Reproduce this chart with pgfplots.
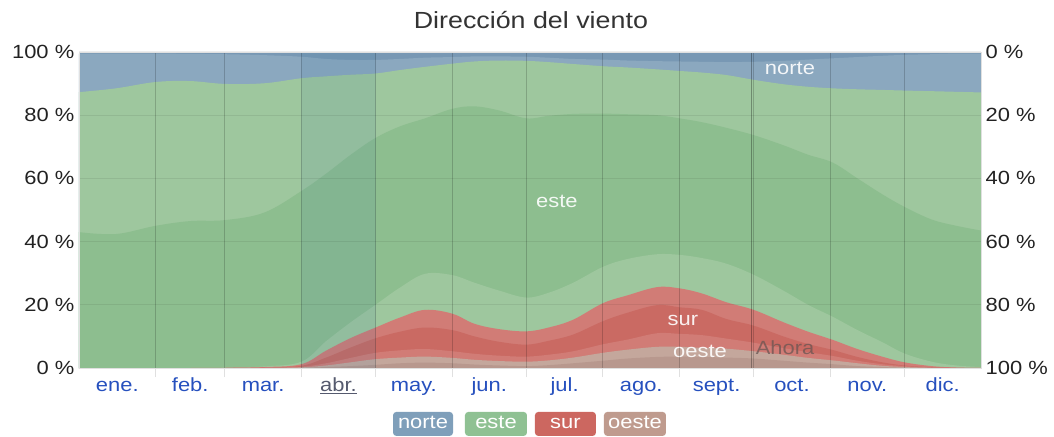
\documentclass[border=0pt]{standalone}
\usepackage{fontspec}
\setmainfont{Liberation Sans}
\usepackage{graphicx}
\usepackage{pgfplots}
\usepackage{pgfplotstable}
\pgfplotsset{compat=1.18}

\definecolor{Ndark}{RGB}{120,152,180}
\definecolor{Nlight}{RGB}{139,168,191}
\definecolor{Elight}{RGB}{158,199,158}
\definecolor{Edark}{RGB}{141,190,143}
\definecolor{Slight}{RGB}{209,124,118}
\definecolor{Sdark}{RGB}{202,106,99}
\definecolor{Wlight}{RGB}{196,167,156}
\definecolor{Wdark}{RGB}{184,152,142}
\definecolor{LegN}{RGB}{127,159,186}
\definecolor{LegE}{RGB}{143,193,147}
\definecolor{LegS}{RGB}{204,103,96}
\definecolor{LegW}{RGB}{191,155,142}
\definecolor{monthblue}{RGB}{38,80,190}
\definecolor{aprgray}{RGB}{85,90,110}
\definecolor{txt}{RGB}{34,34,34}
\definecolor{titlegray}{RGB}{51,51,51}
\definecolor{aprtint}{RGB}{60,120,160}

\newcommand{\sx}[1]{\scalebox{1.15}[1]{#1}}
\newcommand{\fs}{\fontsize{14.3}{17}\selectfont}
\tikzset{legbox/.style={rounded corners=2.5pt, minimum height=18pt, inner sep=0pt, text=white, font=\fs, text height=10.3pt, text depth=3pt}}

\pgfplotstableread{
day a b c d e f g h i
0 0 0 0 0 0 0 43.0 87.3 99.5
15 0 0 0 0 0 0 42.4 88.5 99.5
31 0 0 0 0 0 0 45.0 90.5 99.5
45 0 0 0 0 0 0 46.5 90.8 99.4
59 0 0 0 0 0.05 0.1 46.8 89.9 99.3
75 0 0 0.05 0.1 0.3 0.5 49.2 90.1 99.0
90 0.05 0.2 0.4 0.7 1.2 2.0 56.0 91.7 98.5
100 0.3 0.8 1.5 3.3 5.5 8.5 61.5 92.3 97.8
110 0.6 1.8 3.2 6.5 9.5 14.5 67.5 92.8 97.5
120 1.0 2.8 4.8 9.4 12.8 20.0 72.8 93.2 97.5
130 1.5 3.3 5.6 11.5 16.0 25.5 76.5 94.3 97.8
140 1.7 3.6 6.0 12.8 18.4 29.8 79.0 95.3 98.2
151 1.5 3.2 5.3 12.0 17.2 29.4 82.0 96.3 98.4
160 1.1 2.6 4.5 10.0 14.0 27.0 82.8 97.0 98.6
170 0.8 2.2 3.9 8.3 12.3 24.5 81.5 97.3 98.6
181 0.6 2.0 3.6 7.4 11.6 22.3 79.0 97.2 98.5
190 0.9 2.4 4.2 8.6 12.8 23.8 79.8 96.8 98.2
200 1.5 3.3 5.3 10.6 15.3 27.0 80.4 96.2 97.8
212 2.3 4.8 7.5 14.8 20.5 32.0 80.5 95.5 97.6
222 3.0 5.8 9.0 17.5 23.0 34.5 80.3 95.1 97.3
234 3.5 6.7 11.0 19.9 25.6 36.0 80.0 94.5 97.1
243 3.6 6.7 10.8 19.2 25.2 35.8 79.0 94.0 97.0
252 3.5 6.4 10.4 18.4 23.6 34.8 77.8 93.5 96.9
262 3.3 6.1 9.3 15.5 20.8 33.0 76.0 92.7 96.8
273 3.0 5.3 8.0 13.4 18.4 29.5 73.7 91.2 96.9
285 2.3 4.2 6.3 10.0 14.5 24.5 70.5 89.8 97.2
295 1.7 3.2 5.0 7.6 11.5 20.0 67.5 89.0 97.6
305 1.2 2.4 3.8 5.7 8.9 16.2 65.0 88.5 98.0
315 0.6 1.5 2.3 3.5 6.0 12.0 60.0 88.2 98.4
325 0.3 0.7 1.2 1.8 3.6 8.2 55.0 88.0 98.8
334 0.1 0.3 0.6 0.8 1.8 4.6 51.0 87.8 99.1
345 0 0.05 0.15 0.25 0.6 2.0 47.0 87.6 99.3
355 0 0 0 0.05 0.15 0.8 45.0 87.4 99.5
365 0 0 0 0 0 0.3 43.5 87.2 99.5
}\wind

\begin{document}
\begin{tikzpicture}
\begin{axis}[
  name=main,
  scale only axis, width=676.5pt, height=237pt,
  xmin=0, xmax=365, ymin=0, ymax=100,
  axis background/.style={fill=Ndark},
  axis on top,
  clip mode=individual,
  axis line style={draw=black!12},
  xtick={15.5,45,74.5,105,135.5,166,196.5,227.5,258,288.5,319,349.5},
  xticklabels={\sx{ene.},\sx{feb.},\sx{mar.},{\color{aprgray}\sx{\underline{abr.}}},\sx{may.},\sx{jun.},\sx{jul.},\sx{ago.},\sx{sept.},\sx{oct.},\sx{nov.},\sx{dic.}},
  xticklabel style={font=\fs, text=monthblue, anchor=base, yshift=-17.5pt},
  minor xtick={31,59,90,120,151,181,212,243,273,304,334},
  xminorgrids=true,
  minor x grid style={black, opacity=0.18, line width=0.75pt},
  xtick pos=bottom,
  tick align=outside,
  major tick length=0pt,
  minor tick length=7pt,
  minor tick style={black, opacity=0.12, line width=0.75pt},
  ytick={0,20,40,60,80,100},
  ytick pos=left,
  ytick style={draw=none},
  ymajorgrids=true,
  y grid style={black, opacity=0.07, line width=0.75pt},
  /pgf/number format/assume math mode=true,
  yticklabel={\sx{\pgfmathprintnumber{\tick}\ \%}},
  yticklabel style={font=\fs, text=txt},
]
\addplot[fill=Nlight, draw=none, smooth, tension=0.6] table[x=day, y=i] {\wind} \closedcycle;
\addplot[fill=Elight, draw=none, smooth, tension=0.6] table[x=day, y=h] {\wind} \closedcycle;
\addplot[fill=Edark, draw=none, smooth, tension=0.6] table[x=day, y=g] {\wind} \closedcycle;
\addplot[fill=Elight, draw=none, smooth, tension=0.6] table[x=day, y=f] {\wind} \closedcycle;
\addplot[fill=Slight, draw=none, smooth, tension=0.6] table[x=day, y=e] {\wind} \closedcycle;
\addplot[fill=Sdark, draw=none, smooth, tension=0.6] table[x=day, y=d] {\wind} \closedcycle;
\addplot[fill=Slight, draw=none, smooth, tension=0.6] table[x=day, y=c] {\wind} \closedcycle;
\addplot[fill=Wlight, draw=none, smooth, tension=0.6] table[x=day, y=b] {\wind} \closedcycle;
\addplot[fill=Wdark, draw=none, smooth, tension=0.6] table[x=day, y=a] {\wind} \closedcycle;

% April highlight and "now" line
\fill[aprtint, opacity=0.12] (axis cs:90,0) rectangle (axis cs:120,100);
\draw[black, opacity=0.3, line width=0.75pt] (axis cs:272,0) -- (axis cs:272,100);

% in-chart labels
\node[font=\fs, text=white, opacity=0.9] at (axis cs:287.7,94.9) {\sx{norte}};
\node[font=\fs, text=white, opacity=0.9] at (axis cs:193.4,52.8) {\sx{este}};
\node[font=\fs, text=white, opacity=0.9] at (axis cs:244.4,15.2) {\sx{sur}};
\node[font=\fs, text=white, opacity=0.9] at (axis cs:251.3,5.1) {\sx{oeste}};
\node[font=\fs, text={rgb,255:red,105;green,85;blue,82}, opacity=0.75] at (axis cs:285.7,6.3) {\sx{Ahora}};

% title
\node[font=\fontsize{17.5}{20}\selectfont, text=titlegray] at ([yshift=24pt]rel axis cs:0.501,1) {\sx{Dirección del viento}};

% legend
\node[legbox, fill=LegN, minimum width=45pt] at (rel axis cs:0.3814,-0.177) {\sx{norte}};
\node[legbox, fill=LegE, minimum width=46.5pt] at (rel axis cs:0.4623,-0.177) {\sx{este}};
\node[legbox, fill=LegS, minimum width=45.75pt] at (rel axis cs:0.5393,-0.177) {\sx{sur}};
\node[legbox, fill=LegW, minimum width=46.5pt] at (rel axis cs:0.6164,-0.177) {\sx{oeste}};
\end{axis}

\begin{axis}[
  scale only axis, width=676.5pt, height=237pt,
  xmin=0, xmax=365, ymin=0, ymax=100,
  y dir=reverse,
  hide x axis,
  axis y line*=right,
  y axis line style={draw=none},
  ytick={0,20,40,60,80,100},
  ytick style={draw=none},
  /pgf/number format/assume math mode=true,
  yticklabel={\sx{\pgfmathprintnumber{\tick}\ \%}},
  yticklabel style={font=\fs, text=txt},
]
\addplot[draw=none] coordinates {(0,0)};
\end{axis}

\path ([xshift=-59.25pt,yshift=-51pt]main.south west) rectangle ([xshift=54.75pt,yshift=39pt]main.north east);
\end{tikzpicture}
\end{document}
